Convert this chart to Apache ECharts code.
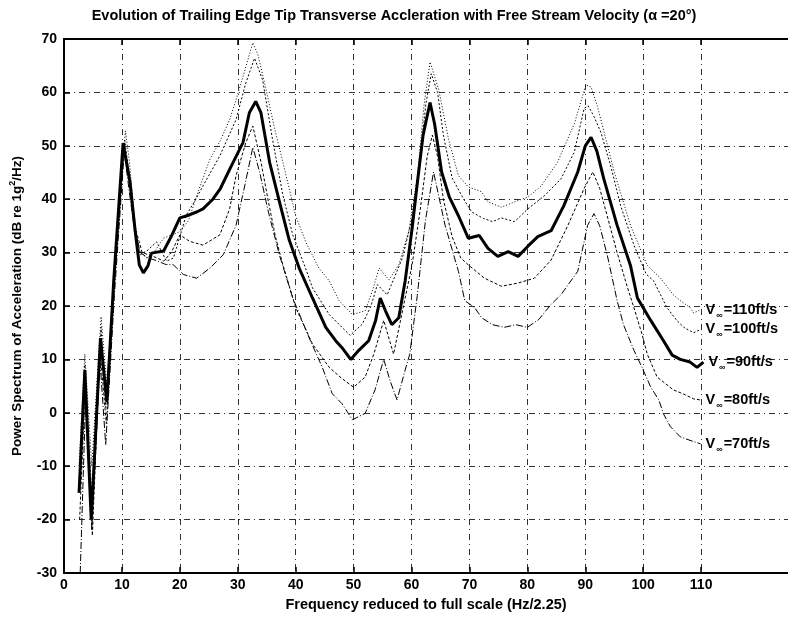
<!DOCTYPE html>
<html>
<head>
<meta charset="utf-8">
<script src="https://cdn.jsdelivr.net/npm/echarts@6/dist/echarts.min.js"></script>
<style>
  html, body { margin: 0; padding: 0; background: #fff; }
  #chart { width: 788px; height: 617px; }
</style>
</head>
<body>
<div id="chart"></div>
<script>
// Frequency (reduced to full scale, Hz/2.25) and power spectrum (dB re 1g^2/Hz)
// for the trailing edge tip at each free stream velocity.
const freq110 = [2.6,3.6,4.8,6.4,7.4,8.8,10.6,11.3,12,12.9,14.3,15.5,17.2,20,21.5,22.9,25.2,27,28.6,29.7,31.4,32.6,33.5,34.9,36.3,37.8,40,41.7,44,45.8,47.5,49.8,52,53.3,54.4,56.1,57.8,59.5,61,62.2,63.2,64.7,66.4,68.1,69.8,72.1,73.2,75.5,77.8,80.1,82.4,85.2,88.1,90.1,91,92.1,95,97.8,100.7,103,105.2,106.4,108.1,108.7,109.9];
const db110   = [-10,11,-10,18,5,28,52.8,47,38,30.2,29,30,32.7,33.9,36,40.6,47.5,51,54.9,58.6,64.8,69.3,67,60.5,53.5,46.9,36.9,32.1,27.1,24.7,21,18.4,19.1,23,27.1,24.9,27.7,33.9,44,58,65.7,60.5,51.2,44.4,42.3,41.4,39.5,38.5,39.5,40.4,42.5,46.9,54.1,61.4,61,57.4,45.1,35.1,27.6,25.2,22.1,21,19.7,18.7,19.3];

const freq100 = [2.6,3.6,4.9,6.4,7.2,8.8,10.5,11.3,12.2,13.2,14.5,16,17.7,18.9,20,21.1,22.5,24,26.9,29.7,31.4,32.9,34.3,36,37.8,39.5,41.7,42.9,45.8,48,49.4,51.5,53,54.1,55.8,58.4,60.1,61.5,62.5,63.4,64.5,65.5,67,69,70.4,72.4,74,75.5,77.8,80.1,83,85.8,88.1,89.8,90.5,91.5,92.7,94.4,96.1,98.4,100.5,101.8,104.1,105.8,107,108.7,109.9];
const db100   = [-14,9,-18,16,1,26,51,44,35,29.6,30.5,32,28.4,29,33,37,39.5,42.5,48.1,54.9,61.8,66.4,62.3,51.2,40.7,33.3,27.1,23.4,18.4,16,14.5,16.6,20,24,22.1,28.9,36.4,48,58,63.5,60,52,44,40,37.6,36.4,35.8,36.5,35.8,38.2,40.7,43.8,48.8,57,57.5,55.5,52.5,46.2,38.8,31.4,26,24.7,19.7,17.3,16,15,15.6];

const freq90 = [2.6,3.6,4.7,6.3,7.4,8.6,10.2,11.4,12.3,13,13.7,14.5,15.1,17.2,18.5,20,21.5,22.9,24,25.7,27,28.6,30.9,32,33.1,34,35.5,37.2,38.9,40.6,42.9,45.2,46.9,48,49.5,50.9,52.6,53.8,54.6,55.5,56.6,57.8,58.9,60.1,61,62,63.2,64,65.2,66.5,68.1,69.8,71.7,73.2,74.9,76.7,78.4,80.1,81.8,84.1,86.3,88.7,90,91,92,93.2,95.5,97.8,99,101.3,103.5,105,106.4,108.1,109.3,110.4];
const db90   = [-15,8,-20,14,2,25,50.5,43.2,33.9,27.7,26.2,27.5,29.9,30.3,33,36.5,37,37.6,38.2,40,42,45.6,50.6,56.2,58.3,56.2,46.9,39.5,32.3,27.1,21.5,16,13.5,12.2,10,11.7,13.5,17.3,21.5,19.1,16.5,17.8,24.7,34.5,43,52,58.1,54,45.1,40.5,36.9,32.7,33.2,30.8,29.3,30.2,29.3,31.2,33,34.1,38.8,45.1,50,51.6,49,43.8,35.1,27.6,21.5,17.3,13.5,10.8,10,9.5,8.5,9.5];

const freq80 = [2.7,3.7,4.9,6.2,7.3,8.7,10.3,11.2,12.2,13.5,15.4,17.2,18.5,20,21.7,24,26.9,28.6,29.7,31.4,32.6,34,35.3,36.5,37.8,40,42.9,45.8,48,50,52,53.5,55.2,56.9,58.9,60.1,61.5,62.7,63.6,64.5,65.5,67,68.5,69.8,72.6,75.5,78.4,81.2,84.1,87,89.8,91.3,92.5,94,95.5,97.3,98.4,99.8,100.7,102.4,105.2,107,108.7,109.9];
const db80   = [-20,6,-23,12,-2,24,50,44,35,30,29.3,28.4,30,33.3,32.1,31.4,33.3,38.2,44.4,50.6,53.7,47,39.5,33,27.7,19.7,12.9,8.5,6.4,4.8,6.7,11,17.3,11,21.5,27.7,38,48,52,48,40,33,29,27.7,25.2,23.7,24.3,25.2,28.6,35.1,42,45.1,42,36,30,23.4,19.7,14.7,11,6.7,4.3,3.5,2.6,2.4];

const freq70 = [2.8,3.8,4.8,6.2,7.2,8.7,10.4,11.2,12.2,13.2,14.5,16,17.5,18.9,20.6,22.9,25.2,27.5,29.7,31.2,32.6,33.8,35.2,37.2,39.5,42.3,44.6,46.3,48,49.8,52,53.7,55.2,56.3,57.5,58.9,59.7,61,62.4,63.8,65.8,68.1,69.2,70.9,72.1,74,76,78,80,82,84.1,85.8,88.7,90.4,91.5,92.5,93.8,95.5,96.6,98.4,99.8,101.3,102.7,103.5,104.7,106.4,108.7,109.9];
const db70   = [-30,5,-22,10,-6,22,49,42,34,30,29,28.5,27.8,27.7,25.9,25.2,27.1,29.6,35.1,42.5,49.7,45,38,29.5,21.5,14.1,8.5,3.6,1.7,-1.3,-0.1,4.3,10,6,2.4,8,11,22,36,45.1,35.1,26.5,21,19.7,17.8,16.5,16,16.5,16,17.5,20.3,22.1,26.5,35.1,37.3,35,29.5,21,16.5,11.7,8.5,4.8,2.4,-0.2,-2.6,-4.5,-5.4,-5.8];

const velocityLabels = ['110', '100', '90', '80', '70'];
const xTickValues = [0, 10, 20, 30, 40, 50, 60, 70, 80, 90, 100, 110];

const FONT = '"Liberation Sans", Arial, sans-serif';

function pairs(xs, ys) {
  return xs.map((x, i) => [x, ys[i]]);
}

const curves = [
  { v: velocityLabels[0], x: freq110, y: db110, width: 1, type: [1, 2] },
  { v: velocityLabels[1], x: freq100, y: db100, width: 1, type: [2, 2] },
  { v: velocityLabels[2], x: freq90,  y: db90,  width: 3, type: 'solid' },
  { v: velocityLabels[3], x: freq80,  y: db80,  width: 1, type: [3, 2] },
  { v: velocityLabels[4], x: freq70,  y: db70,  width: 1, type: [7, 2, 1, 2] }
];

const gridLine = { show: true, lineStyle: { color: '#333', width: 1, type: [6, 4, 1, 4] } };

const chart = echarts.init(document.getElementById('chart'), null, { renderer: 'canvas' });

chart.setOption({
  animation: false,
  backgroundColor: '#fff',
  title: {
    text: 'Evolution of Trailing Edge Tip Transverse Accleration with Free Stream Velocity (α =20°)',
    left: 'center',
    top: 3,
    textStyle: { fontFamily: FONT, fontSize: 14.5, fontWeight: 'bold', color: '#000' }
  },
  grid: { left: 60, right: 0, top: 39, bottom: 39, containLabel: false },
  xAxis: [{
    type: 'value',
    min: 0,
    max: 125,
    interval: 10,
    position: 'bottom',
    name: 'Frequency reduced to full scale (Hz/2.25)',
    nameLocation: 'middle',
    nameGap: 24,
    nameTextStyle: { fontFamily: FONT, fontSize: 14.5, fontWeight: 'bold', color: '#000' },
    axisLine: { show: true, onZero: false, lineStyle: { color: '#000', width: 2 } },
    axisTick: { show: true, inside: true, length: 6, customValues: xTickValues, lineStyle: { color: '#000', width: 1.5 } },
    axisLabel: { customValues: xTickValues, margin: 5, fontFamily: FONT, fontSize: 14, fontWeight: 'bold', color: '#000' },
    splitLine: gridLine
  }, {
    type: 'value',
    min: 0,
    max: 125,
    interval: 10,
    position: 'top',
    axisLine: { show: true, onZero: false, lineStyle: { color: '#000', width: 2 } },
    axisTick: { show: true, inside: true, length: 6, customValues: xTickValues, lineStyle: { color: '#000', width: 1.5 } },
    axisLabel: { show: false },
    splitLine: { show: false }
  }],
  yAxis: {
    type: 'value',
    min: -30,
    max: 70,
    interval: 10,
    name: 'Power Spectrum of Acceleration (dB re 1g{sup|2}/Hz)',
    nameLocation: 'middle',
    nameGap: 38,
    nameTextStyle: {
      fontFamily: FONT, fontSize: 13.5, fontWeight: 'bold', color: '#000',
      rich: { sup: { fontFamily: FONT, fontSize: 9, fontWeight: 'bold', color: '#000', padding: [0, 0, 9, 0] } }
    },
    axisLine: { show: true, onZero: false, lineStyle: { color: '#000', width: 2 } },
    axisTick: { show: true, inside: true, length: 6, lineStyle: { color: '#000', width: 1.5 } },
    axisLabel: { margin: 7, fontFamily: FONT, fontSize: 14, fontWeight: 'bold', color: '#000' },
    splitLine: gridLine
  },
  series: curves.map(c => ({
    name: 'V∞=' + c.v + 'ft/s',
    type: 'line',
    xAxisIndex: 0,
    data: pairs(c.x, c.y),
    showSymbol: false,
    symbol: 'none',
    smooth: false,
    clip: true,
    lineStyle: { color: '#000', width: c.width, type: c.type },
    endLabel: {
      show: true,
      distance: 5,
      formatter: 'V{s|∞}=' + c.v + 'ft/s',
      fontFamily: FONT,
      fontSize: 14.5,
      fontWeight: 'bold',
      color: '#000',
      rich: {
        s: { fontFamily: FONT, fontSize: 9, fontWeight: 'bold', color: '#000', padding: [11, 1, 0, 1] }
      }
    }
  }))
});
</script>
</body>
</html>
